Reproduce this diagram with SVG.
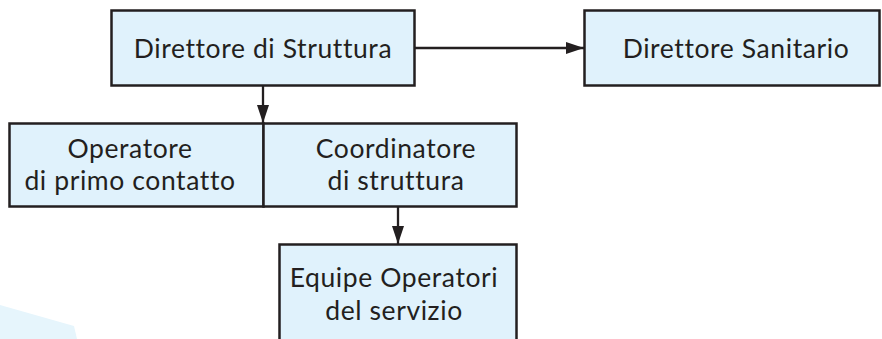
<svg xmlns="http://www.w3.org/2000/svg" width="882" height="339" viewBox="0 0 882 339">
<style>
.box{fill:#e0f2fc;stroke:#231f20;stroke-width:2.5}
.lbl{font-family:Lato,"Open Sans",sans-serif;font-size:26.5px;letter-spacing:0.6px;font-variant-ligatures:none;fill:#231f20;text-anchor:middle}
.conn{stroke:#231f20;stroke-width:2.3;fill:none}
</style>
<defs>
<marker id="ah" viewBox="0 0 18 12" refX="18" refY="6" markerWidth="18" markerHeight="12" markerUnits="userSpaceOnUse" orient="auto">
<path d="M0,0 L18,6 L0,12 Z" fill="#231f20"/>
</marker>
</defs>
<polygon points="0,305 74,326 77,339 0,339" fill="#e6f5fc"/>
<g id="direttore-struttura">
<rect class="box" x="111.5" y="10.5" width="303" height="75"/>
<text class="lbl" x="263" y="58">Direttore di Struttura</text>
</g>
<g id="direttore-sanitario">
<rect class="box" x="584.5" y="10.5" width="295" height="75"/>
<text class="lbl" x="736" y="58">Direttore Sanitario</text>
</g>
<g id="operatore-primo-contatto">
<rect class="box" x="9.5" y="123.5" width="254" height="83"/>
<text class="lbl" x="130" y="158">Operatore</text>
<text class="lbl" x="130" y="190">di primo contatto</text>
</g>
<g id="coordinatore-struttura">
<rect class="box" x="263.5" y="123.5" width="253" height="83"/>
<text class="lbl" x="396" y="158">Coordinatore</text>
<text class="lbl" x="396" y="190">di struttura</text>
</g>
<g id="equipe-operatori">
<rect class="box" x="279.5" y="244.5" width="237" height="110"/>
<text class="lbl" x="394" y="287">Equipe Operatori</text>
<text class="lbl" x="394" y="320">del servizio</text>
</g>
<g id="connectors">
<line class="conn" x1="415" y1="48" x2="584" y2="48" marker-end="url(#ah)"/>
<line class="conn" x1="263" y1="86" x2="263" y2="123" marker-end="url(#ah)"/>
<line class="conn" x1="398" y1="207" x2="398" y2="244" marker-end="url(#ah)"/>
</g>
</svg>
